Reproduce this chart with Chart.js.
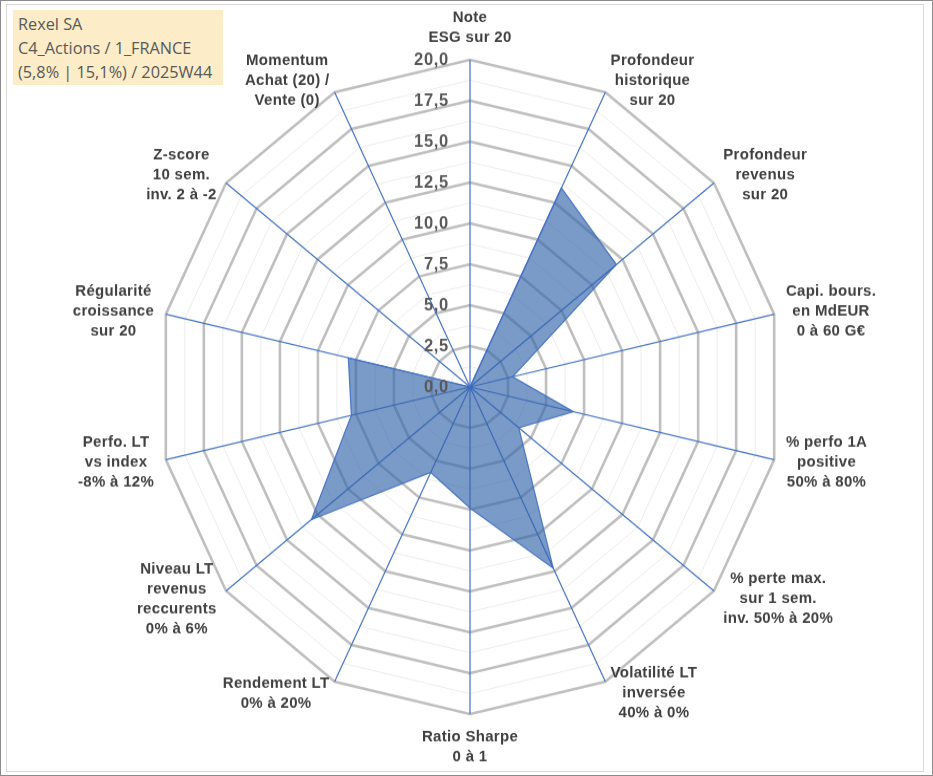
<!DOCTYPE html>
<html lang="fr">
<head>
<meta charset="utf-8">
<title>Rexel SA - radar</title>
<script src="https://cdn.jsdelivr.net/npm/chart.js@4.4.1/dist/chart.umd.min.js"></script>
<style>
  html, body { margin: 0; padding: 0; background: #fff; }
  #frame {
    position: relative; width: 931px; height: 774px;
    border: 1px solid #8c8c8c; overflow: hidden;
  }
  #inner {
    position: absolute; left: 5px; top: 3px; width: 916px; height: 766px;
    border: 1px solid #d9d9d9;
  }
  #wrap {
    position: absolute; left: -1px; top: -1px; width: 933px; height: 740px;
    transform: scaleY(1.0486); transform-origin: 0 0;
  }
  #titleBox {
    position: absolute; left: 12px; top: 9px; width: 210px; height: 75px;
    background: #fcecc7; color: #595959;
    font-family: "Open Sans", sans-serif; font-size: 16.3px; line-height: 24px;
    padding: 2px 0 0 5px; box-sizing: border-box; white-space: nowrap;
  }
</style>
</head>
<body>
<div id="frame">
  <div id="inner"></div>
  <div id="wrap"><canvas id="radar"></canvas></div>
  <div id="titleBox"></div>
</div>
<script>
// Axes du radar (sens horaire depuis le haut)
const categories = [
  ['Note', 'ESG sur 20'],
  ['Profondeur', 'historique', 'sur 20'],
  ['Profondeur', 'revenus', 'sur 20'],
  ['Capi. bours.', 'en MdEUR', '0 à 60 G€'],
  ['% perfo 1A', 'positive', '50% à 80%'],
  ['% perte max.', 'sur 1 sem.', 'inv. 50% à 20%'],
  ['Volatilité LT', 'inversée', '40% à 0%'],
  ['Ratio Sharpe', '0 à 1'],
  ['Rendement LT', '0% à 20%'],
  ['Niveau LT', 'revenus', 'reccurents', '0% à 6%'],
  ['Perfo. LT', 'vs index', '-8% à 12%'],
  ['Régularité', 'croissance', 'sur 20'],
  ['Z-score', '10 sem.', 'inv. 2 à -2'],
  ['Momentum', 'Achat (20) /', 'Vente (0)']
];

// Notes sur 20
const scores = [0, 13.5, 12.0, 2.8, 6.8, 4.0, 12.3, 7.4, 5.8, 13.0, 7.8, 8.0, 0, 0];

const scaleMin = 0;
const scaleMax = 20;
const minorStep = 1.25;
const majorStep = 2.5;

const titleLines = ['Rexel SA', 'C4_Actions / 1_FRANCE', '(5,8% | 15,1%) / 2025W44'];

document.getElementById('titleBox').innerHTML = titleLines.join('<br>');

const isMajor = v => Math.abs(v / majorStep - Math.round(v / majorStep)) < 1e-6;

// libellés des graduations, à gauche de l'axe vertical
const tickLabelsPlugin = {
  id: 'tickLabels',
  afterDatasetsDraw(chart) {
    const scale = chart.scales.r;
    const ctx = chart.ctx;
    ctx.save();
    ctx.font = 'bold 16.5px "Liberation Sans", Arial, sans-serif';
    if ('letterSpacing' in ctx) ctx.letterSpacing = '0.7px';
    ctx.fillStyle = '#595959';
    ctx.textAlign = 'right';
    ctx.textBaseline = 'middle';
    scale.ticks.forEach(t => {
      if (!isMajor(t.value)) return;
      const p = scale.getPointPositionForValue(0, t.value);
      ctx.fillText(t.value.toFixed(1).replace('.', ','), p.x - 21, p.y);
    });
    ctx.restore();
  }
};

// libellés des axes, centrés ligne par ligne
const axisLabelsPlugin = {
  id: 'axisLabels',
  afterDraw(chart) {
    const scale = chart.scales.r;
    const ctx = chart.ctx;
    const n = categories.length;
    const lineH = 19;
    ctx.save();
    ctx.font = 'bold 15px "Liberation Sans", Arial, sans-serif';
    if ('letterSpacing' in ctx) ctx.letterSpacing = '0.3px';
    ctx.fillStyle = '#404040';
    ctx.textAlign = 'center';
    ctx.textBaseline = 'middle';
    categories.forEach((lines, i) => {
      const p = scale.getPointPosition(i, scale.drawingArea + 12);
      const deg = i * 360 / n;
      const w = Math.max(...lines.map(l => ctx.measureText(l).width));
      const h = lines.length * lineH;
      let cx = p.x, cy = p.y;
      if (deg === 0) cy = p.y - h / 2;
      else if (deg === 180) cy = p.y + h / 2;
      else if (deg < 180) cx = p.x + w / 2;
      else cx = p.x - w / 2;
      lines.forEach((l, k) => {
        ctx.fillText(l, cx, cy - h / 2 + lineH * (k + 0.5));
      });
    });
    ctx.restore();
  }
};

const ctx = document.getElementById('radar').getContext('2d');
new Chart(ctx, {
  type: 'radar',
  data: {
    labels: categories,
    datasets: [{
      label: 'Rexel SA',
      data: scores,
      backgroundColor: 'rgba(50, 100, 170, 0.65)',
      borderColor: 'rgba(68, 114, 196, 0.95)',
      borderWidth: 1.2,
      pointRadius: 0,
      pointHoverRadius: 0,
      fill: true
    }]
  },
  options: {
    responsive: true,
    maintainAspectRatio: false,
    animation: false,
    layout: { padding: { left: 7, top: 57, bottom: 59, right: 0 } },
    plugins: {
      legend: { display: false },
      tooltip: { enabled: false }
    },
    scales: {
      r: {
        min: scaleMin,
        max: scaleMax,
        beginAtZero: true,
        ticks: { stepSize: minorStep, display: false },
        pointLabels: { display: false },
        grid: {
          circular: false,
          color: c => isMajor(c.tick.value) ? '#bfbfbf' : '#ececec',
          lineWidth: c => isMajor(c.tick.value) ? 2.6 : 1
        },
        angleLines: { color: '#4472c4', lineWidth: 1.2 }
      }
    }
  },
  plugins: [tickLabelsPlugin, axisLabelsPlugin]
});
</script>
</body>
</html>
